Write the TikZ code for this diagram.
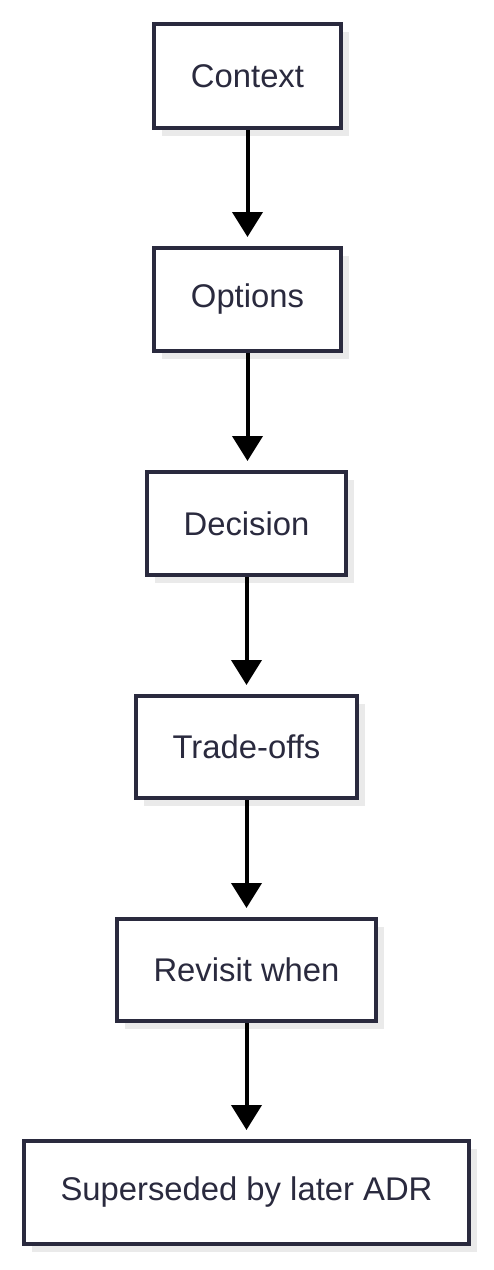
\documentclass[tikz,border=0pt]{standalone}
\usepackage{fontspec}
\setmainfont{Liberation Sans}
\usetikzlibrary{arrows.meta,shadows}
\definecolor{navy}{RGB}{42,42,62}
\definecolor{shade}{RGB}{234,234,234}
\tikzset{
  box/.style={draw=navy, line width=3.6pt, fill=white, text=navy,
    font=\fontsize{32.8}{38}\selectfont, inner sep=0pt,
    drop shadow={shadow xshift=8pt, shadow yshift=-8pt, fill=shade, opacity=1}},
  flow/.style={line width=4pt, black, -{Triangle[width=30pt,length=25pt]}, shorten >=9pt}
}
\begin{document}
\begin{tikzpicture}[x=1pt,y=1pt]
\useasboundingbox (0,0) rectangle (494,-1270);
\node[box, minimum width=187.4pt, minimum height=104.4pt] (c) at (247.5,-76) {Context};
\node[box, minimum width=187.4pt, minimum height=103.4pt] (o) at (247.5,-299.5) {Options};
\node[box, minimum width=199.4pt, minimum height=103.4pt] (d) at (246.5,-523.5) {Decision};
\node[box, minimum width=221.4pt, minimum height=102.4pt] (t) at (246.5,-747) {Trade-offs};
\node[box, minimum width=259.4pt, minimum height=102.4pt] (r) at (246.5,-970) {Revisit when};
\node[box, minimum width=445.4pt, minimum height=103.4pt] (s) at (246.5,-1192.5) {Superseded by later ADR};
\draw[flow] (c.south) -- (c.south |- o.north);
\draw[flow] (o.south) -- (o.south |- d.north);
\draw[flow] (d.south) -- (d.south |- t.north);
\draw[flow] (t.south) -- (t.south |- r.north);
\draw[flow] (r.south) -- (r.south |- s.north);
\end{tikzpicture}
\end{document}
